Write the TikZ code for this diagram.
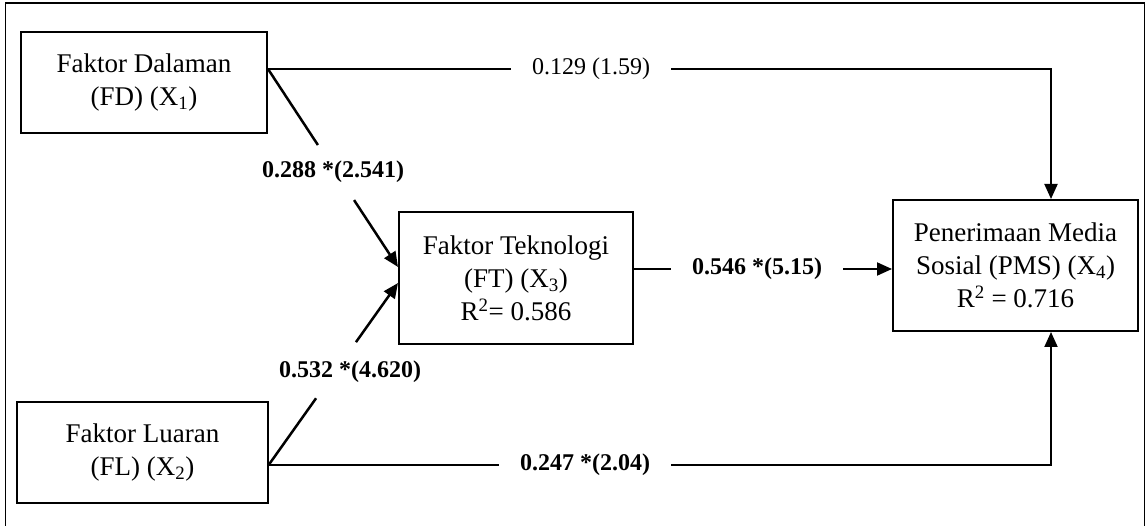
\documentclass[tikz,border=0pt]{standalone}
\usepackage{fontspec}
\setmainfont{Liberation Serif}
\usetikzlibrary{arrows.meta,calc}
\begin{document}
\begin{tikzpicture}[x=1pt,y=-1pt,
  box/.style={draw,line width=2pt,inner sep=0pt,align=center,font=\fontsize{27}{33}\selectfont},
  conn/.style={line width=2pt},
  dconn/.style={line width=2.5pt},
  arr/.style={conn,-{Triangle[length=15pt,width=13pt]}},
  darr/.style={dconn,-{Triangle[length=15pt,width=13pt]}},
  lab/.style={fill=white,inner xsep=21pt,inner ysep=0pt,font=\fontsize{24}{28}\selectfont},
  blab/.style={lab,font=\fontsize{24}{28}\selectfont\bfseries},
  dlab/.style={inner sep=0pt,font=\fontsize{24}{28}\selectfont\bfseries}]
\useasboundingbox (0,0) rectangle (1146,526);
\draw[line width=1.8pt] (5.5,540) -- (5.5,3) -- (1144.5,3) -- (1144.5,540);

\node[box,minimum width=246pt,minimum height=101pt] (FD) at (144,82.5) {Faktor Dalaman\\(FD) (X\textsubscript{1})};
\node[box,minimum width=251pt,minimum height=101pt] (FL) at (142.5,452.5) {Faktor Luaran\\(FL) (X\textsubscript{2})};
\node[box,minimum width=234pt,minimum height=132pt] (FT) at (516,278) {Faktor Teknologi\\(FT) (X\textsubscript{3})\\R\textsuperscript{2}= 0.586};
\node[box,minimum width=245pt,minimum height=131pt] (PMS) at (1015.5,265.5) {Penerimaan Media\\Sosial (PMS) (X\textsubscript{4})\\R\textsuperscript{2} = 0.716};

\coordinate (fdo) at ([yshift=13.5pt]FD.east);
\coordinate (flo) at ([yshift=-12pt]FL.east);
\coordinate (fti1) at ([yshift=11pt]FT.west);
\coordinate (fti2) at ([yshift=-5pt]FT.west);

\draw[arr] (fdo) -| ([xshift=35.5pt]PMS.north);
\draw[dconn] (fdo) -- ($(fdo)!0.384!(fti1)$);
\draw[darr] ($(fdo)!0.662!(fti1)$) -- (fti1);
\draw[dconn] (flo) -- ($(flo)!0.365!(fti2)$);
\draw[darr] ($(flo)!0.674!(fti2)$) -- (fti2);
\draw[arr] (flo) -| ([xshift=35.5pt]PMS.south);
\draw[arr] ([yshift=9pt]FT.east) -- ([yshift=9pt]FT.east -| PMS.west);

\node[lab] (l1) at (591,69) {0.129 (1.59)};
\node[blab] (l2) at (757,269) {0.546 *(5.15)};
\node[blab] (l3) at (585,465) {0.247 *(2.04)};
\node[dlab] (l4) at (333,172) {0.288 *(2.541)};
\node[dlab] (l5) at (350,372) {0.532 *(4.620)};
\end{tikzpicture}
\end{document}
